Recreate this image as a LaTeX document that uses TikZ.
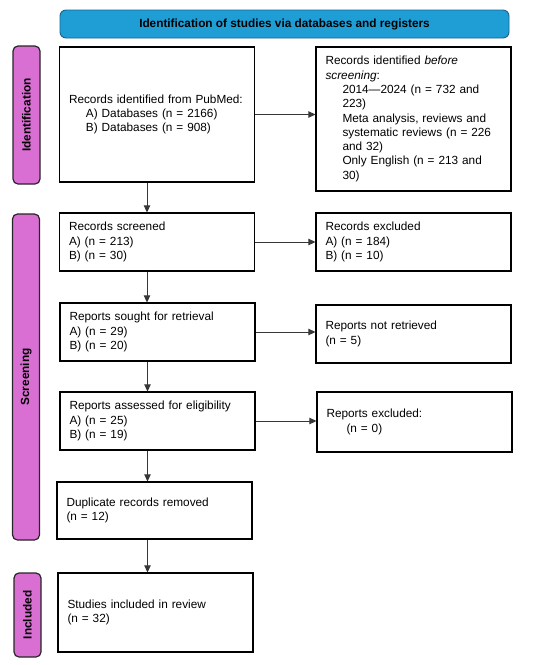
\documentclass[tikz,border=0pt]{standalone}
\usepackage{fontspec}
\setmainfont{Liberation Sans}
\usetikzlibrary{arrows.meta,positioning,calc}
\definecolor{bannerblue}{RGB}{31,158,214}
\definecolor{bannerline}{RGB}{24,98,138}
\definecolor{sidepink}{RGB}{217,111,211}
\definecolor{arrowgray}{RGB}{55,55,55}

\begin{document}
\begin{tikzpicture}[x=1pt,y=-1pt,
    box/.style={draw, line width=1.2pt, inner xsep=9.5pt, text width=176pt, align=left,
        font=\fontsize{11.8}{14.3}\selectfont},
    side/.style={draw=black!85, line width=1.2pt, fill=sidepink, rounded corners=5pt, rotate=90,
        minimum height=27pt, inner sep=0pt, font=\bfseries\fontsize{11.8}{14.3}\selectfont},
    arr/.style={draw=arrowgray, line width=0.9pt, -{Triangle[length=7pt,width=6.5pt]}}]
    \useasboundingbox (0,0) rectangle (550,665);

    % Top banner
    \node[draw=bannerline, line width=0.9pt, fill=bannerblue, rounded corners=6pt,
        minimum width=449pt, minimum height=28pt, font=\bfseries\fontsize{11.8}{14.3}\selectfont]
        (head) at (284.5,24) {Identification of studies via databases and registers};

    % Side labels
    \node[side, minimum width=138pt] (ident) at (26.5,115) {Identification};
    \node[side, minimum width=326pt] (screen) at (26,377) {Screening};
    \node[side, minimum width=84pt] (incl) at (27.5,615) {Included};

    % Identification
    \node[box, minimum height=135pt] (pubmed) at (157,114.5)
        {Records identified from PubMed:\\
         \hspace*{17pt}A) Databases (n = 2166)\\
         \hspace*{17pt}B) Databases (n = 908)};
    \node[box, minimum height=144pt] (before) at (413.5,119)
        {Records identified \textit{before}\\
         \textit{screening}:\\
         \hspace*{17pt}2014—2024 (n = 732 and\\
         \hspace*{17pt}223)\\
         \hspace*{17pt}Meta analysis, reviews and\\
         \hspace*{17pt}systematic reviews (n = 226\\
         \hspace*{17pt}and 32)\\
         \hspace*{17pt}Only English (n = 213 and\\
         \hspace*{17pt}30)};
    \draw[arr] (pubmed.east) -- (pubmed.east -| before.west);

    % Screening
    \node[box, minimum height=58pt] (screened) at (157,242)
        {Records screened\\ A) (n = 213)\\ B) (n = 30)};
    \node[box, minimum height=58pt] (excluded) at (413.5,242)
        {Records excluded\\ A) (n = 184)\\ B) (n = 10)};
    \draw[arr] (screened.east) -- (screened.east -| excluded.west);

    \node[box, minimum height=58pt] (sought) at (157.5,332)
        {Reports sought for retrieval\\ A) (n = 29)\\ B) (n = 20)};
    \node[box, minimum height=58pt] (notret) at (413.5,334)
        {Reports not retrieved\\ (n = 5)};
    \draw[arr] (sought.east) -- (sought.east -| notret.west);

    \node[box, minimum height=58pt] (assessed) at (157.5,421)
        {Reports assessed for eligibility\\ A) (n = 25)\\ B) (n = 19)};
    \node[box, minimum height=60pt] (repexcl) at (414.5,422)
        {Reports excluded:\\ \hspace*{20pt}(n = 0)};
    \draw[arr] (assessed.east) -- (assessed.east -| repexcl.west);

    \node[box, minimum height=57pt] (dupl) at (154.5,510.5)
        {Duplicate records removed\\ (n = 12)};

    % Included
    \node[box, minimum height=79pt] (studies) at (155.5,612.5)
        {Studies included in review\\ (n = 32)};

    % Downward flow
    \draw[arr] ([xshift=-10pt]pubmed.south) -- ([xshift=-10pt]pubmed.south |- screened.north);
    \draw[arr] ([xshift=-10pt]screened.south) -- ([xshift=-10pt]screened.south |- sought.north);
    \draw[arr] ([xshift=-10pt]sought.south) -- ([xshift=-10pt]sought.south |- assessed.north);
    \draw[arr] ([xshift=-10pt]assessed.south) -- ([xshift=-10pt]assessed.south |- dupl.north);
    \draw[arr] ([xshift=-7pt]dupl.south) -- ([xshift=-7pt]dupl.south |- studies.north);
\end{tikzpicture}
\end{document}
